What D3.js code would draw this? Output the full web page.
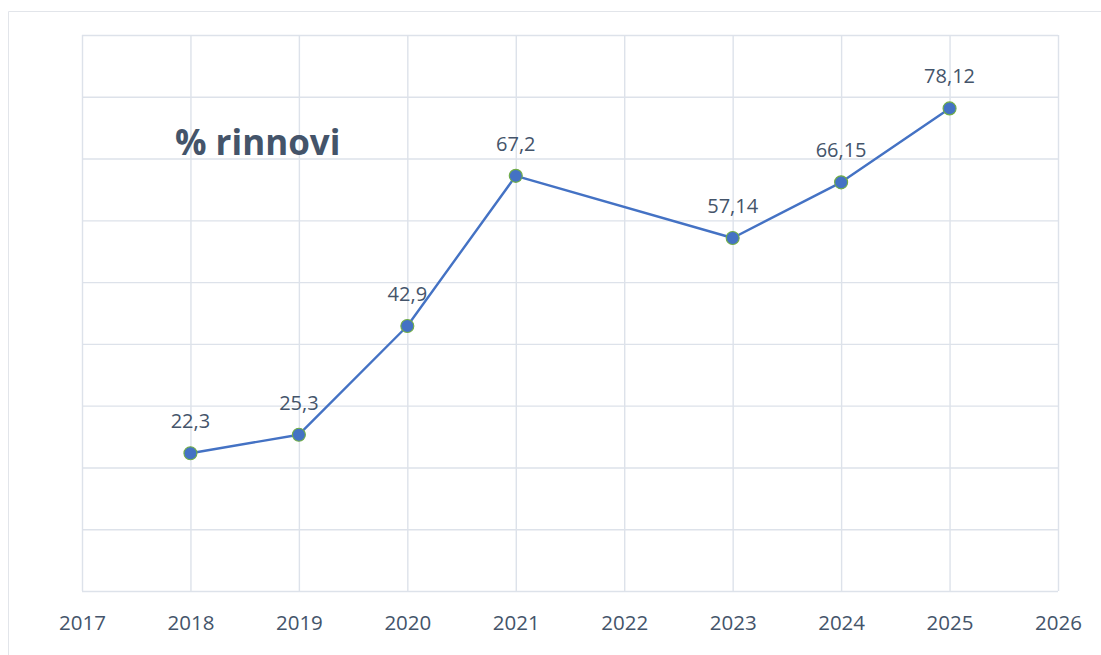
<!DOCTYPE html>
<html><head><meta charset="utf-8">
<script src="https://cdn.jsdelivr.net/npm/d3@7"></script>
<style>
html,body{margin:0;padding:0;background:#fff;}
svg{display:block;}
text{font-family:"Open Sans","Liberation Sans",sans-serif;}
</style></head>
<body>
<svg id="chart" width="1101" height="655"></svg>
<script>
const years = [2018, 2019, 2020, 2021, 2023, 2024, 2025];
const values = [22.3, 25.3, 42.9, 67.2, 57.14, 66.15, 78.12];
const labels = ["22,3", "25,3", "42,9", "67,2", "57,14", "66,15", "78,12"];
const xTicks = [2017, 2018, 2019, 2020, 2021, 2022, 2023, 2024, 2025, 2026];
const yTicks = [0, 10, 20, 30, 40, 50, 60, 70, 80, 90];
const title = "% rinnovi";

const svg = d3.select("#chart");
const W = 1101, H = 655;
const m = {left: 82, right: 1058, top: 35, bottom: 591};
const gridColor = "#dde2ea";
const textColor = "#44546A";

// outer chart border (cropped at right/bottom)
svg.append("path")
  .attr("d", `M8.5,${H+2} L8.5,11.5 L${W+2},11.5`)
  .attr("fill", "none").attr("stroke", "#e2e5ea").attr("stroke-width", 1);

const x = d3.scaleLinear().domain([2017, 2026]).range([m.left, m.right]);
const y = d3.scaleLinear().domain([0, 90]).range([m.bottom, m.top]);

// horizontal grid
svg.append("g").attr("transform", `translate(${m.left},0)`)
  .call(d3.axisLeft(y).tickValues(yTicks).tickSize(-(m.right - m.left)).tickFormat(""))
  .call(g => g.select(".domain").remove())
  .call(g => g.selectAll("line").attr("stroke", gridColor).attr("stroke-width", 1.4));

// vertical grid + x labels
svg.append("g").attr("transform", `translate(0,${m.bottom})`)
  .call(d3.axisBottom(x).tickValues(xTicks).tickSize(-(m.bottom - m.top)).tickPadding(0).tickFormat(d3.format("d")))
  .call(g => g.select(".domain").remove())
  .call(g => g.selectAll("line").attr("stroke", gridColor).attr("stroke-width", 1.4))
  .call(g => g.selectAll("text")
      .attr("y", 39).attr("dy", "0")
      .attr("fill", textColor)
      .attr("font-size", 20.5)
      .attr("font-family", '"Open Sans","Liberation Sans",sans-serif'));

const pts = years.map((yr, i) => ({yr, v: values[i], lab: labels[i]}));

// line
svg.append("path")
  .datum(pts)
  .attr("d", d3.line().x(d => x(d.yr)).y(d => y(d.v)))
  .attr("fill", "none").attr("stroke", "#4472C4").attr("stroke-width", 2.4)
  .attr("stroke-linejoin", "round");

// markers
svg.append("g").selectAll("circle").data(pts).join("circle")
  .attr("cx", d => x(d.yr)).attr("cy", d => y(d.v)).attr("r", 6.5)
  .attr("fill", "#4472C4").attr("stroke", "#70AD47").attr("stroke-width", 1.1);

// data labels
svg.append("g").selectAll("text").data(pts).join("text")
  .attr("x", d => x(d.yr)).attr("y", d => y(d.v) - 25)
  .attr("text-anchor", "middle")
  .attr("fill", textColor).attr("font-size", 20)
  .text(d => d.lab);

// title
svg.append("text")
  .attr("x", 175).attr("y", 155)
  .attr("fill", textColor).attr("font-size", 35).attr("font-weight", "bold")
  .text(title);
</script>
</body></html>
